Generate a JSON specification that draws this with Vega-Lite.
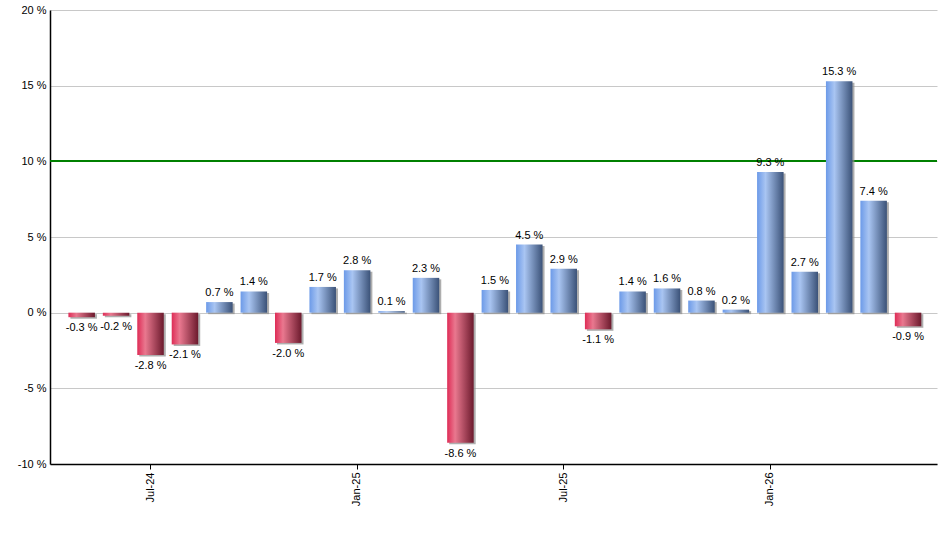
{
  "$schema": "https://vega.github.io/schema/vega-lite/v6.json",
  "autosize": {"type": "none"},
  "width": 887,
  "height": 454,
  "padding": {"left": 50, "top": 10, "right": 3, "bottom": 86},
  "background": "white",
  "config": {
    "view": {"stroke": null},
    "font": "Liberation Sans",
    "axis": {"labelFont": "Liberation Sans", "labelFontSize": 11, "labelColor": "#000000"}
  },
  "data": {
    "values": [
      {"m": "May-24", "v": -0.3},
      {"m": "Jun-24", "v": -0.2},
      {"m": "Jul-24", "v": -2.8},
      {"m": "Aug-24", "v": -2.1},
      {"m": "Sep-24", "v": 0.7},
      {"m": "Oct-24", "v": 1.4},
      {"m": "Nov-24", "v": -2.0},
      {"m": "Dec-24", "v": 1.7},
      {"m": "Jan-25", "v": 2.8},
      {"m": "Feb-25", "v": 0.1},
      {"m": "Mar-25", "v": 2.3},
      {"m": "Apr-25", "v": -8.6},
      {"m": "May-25", "v": 1.5},
      {"m": "Jun-25", "v": 4.5},
      {"m": "Jul-25", "v": 2.9},
      {"m": "Aug-25", "v": -1.1},
      {"m": "Sep-25", "v": 1.4},
      {"m": "Oct-25", "v": 1.6},
      {"m": "Nov-25", "v": 0.8},
      {"m": "Dec-25", "v": 0.2},
      {"m": "Jan-26", "v": 9.3},
      {"m": "Feb-26", "v": 2.7},
      {"m": "Mar-26", "v": 15.3},
      {"m": "Apr-26", "v": 7.4},
      {"m": "May-26", "v": -0.9}
    ]
  },
  "transform": [{"calculate": "(datum.v < 0 ? '-' : '') + format(abs(datum.v), '.1f') + ' %'", "as": "label"}],
  "encoding": {
    "x": {
      "field": "m", "type": "ordinal", "sort": null, "title": null,
      "scale": {"paddingInner": 0.23, "paddingOuter": 0.495, "align": 0.54},
      "axis": {
        "values": ["Jul-24", "Jan-25", "Jul-25", "Jan-26"],
        "labelAngle": -90, "labelAlign": "right", "labelBaseline": "middle",
        "labelPadding": 3, "tickSize": 5, "tickColor": "#000000",
        "domainColor": "#000000", "domainWidth": 1.5, "grid": false
      }
    }
  },
  "layer": [
    {
      "mark": {"type": "rule", "color": "#008000", "strokeWidth": 1.2},
      "encoding": {"x": null, "y": {"datum": 10, "type": "quantitative"}}
    },
    {
      "mark": {"type": "bar", "color": "#8c8c8c", "opacity": 0.7, "xOffset": 2, "yOffset": 1.5},
      "encoding": {
        "y": {
          "field": "v", "type": "quantitative", "title": null,
          "scale": {"domain": [-10, 20], "nice": false, "zero": true},
          "axis": {
            "values": [-10, -5, 0, 5, 10, 15, 20],
            "labelExpr": "datum.value + ' %'",
            "grid": true, "gridColor": "#c8c8c8", "gridWidth": 1,
            "ticks": false, "labelPadding": 4,
            "domainColor": "#000000", "domainWidth": 1.5
          }
        }
      }
    },
    {
      "mark": {"type": "bar"},
      "encoding": {
        "y": {"field": "v", "type": "quantitative"},
        "color": {
          "condition": {
            "test": "datum.v < 0",
            "value": {"gradient": "linear", "x1": 0, "x2": 1, "y1": 0, "y2": 0,
              "stops": [
                {"offset": 0, "color": "#de2c56"},
                {"offset": 0.3, "color": "#e9788f"},
                {"offset": 1, "color": "#6c1a2d"}
              ]}
          },
          "value": {"gradient": "linear", "x1": 0, "x2": 1, "y1": 0, "y2": 0,
            "stops": [
              {"offset": 0, "color": "#6c9ae8"},
              {"offset": 0.32, "color": "#a9c5f2"},
              {"offset": 1, "color": "#3b5278"}
            ]}
        }
      }
    },
    {
      "transform": [{"filter": "datum.v >= 0"}],
      "mark": {"type": "text", "baseline": "bottom", "dy": -4, "fontSize": 11, "color": "#000000"},
      "encoding": {"y": {"field": "v", "type": "quantitative"}, "text": {"field": "label"}}
    },
    {
      "transform": [{"filter": "datum.v < 0"}],
      "mark": {"type": "text", "baseline": "top", "dy": 5, "fontSize": 11, "color": "#000000"},
      "encoding": {"y": {"field": "v", "type": "quantitative"}, "text": {"field": "label"}}
    }
  ]
}
